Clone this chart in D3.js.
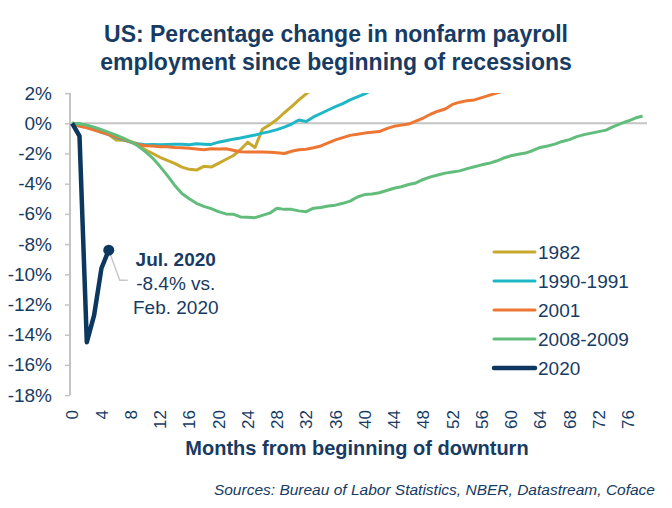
<!DOCTYPE html>
<html>
<head>
<meta charset="utf-8">
<script src="https://cdn.jsdelivr.net/npm/d3@7"></script>
<style>
  body { margin: 0; background: #fff; }
  #chart { width: 672px; height: 508px; }
  text { font-family: "Liberation Sans", Arial, sans-serif; fill: #173b63; }
</style>
</head>
<body>
<div id="chart"></div>
<script>
// % change in nonfarm payrolls, month 0 = start of recession
const jobs1982 = [0, -0.05, -0.15, -0.3, -0.5, -0.75, -1.1, -1.12, -1.2, -1.45, -1.75, -2.0,
  -2.25, -2.45, -2.65, -2.9, -3.05, -3.1, -2.85, -2.9, -2.65, -2.4, -2.15, -1.75, -1.25,
  -1.6, -0.4, -0.1, 0.25, 0.7, 1.1, 1.55, 1.95, 2.3];
const jobs1990 = [0, -0.05, -0.15, -0.4, -0.6, -0.75, -0.95, -1.1, -1.25, -1.35, -1.42, -1.4,
  -1.42, -1.4, -1.38, -1.38, -1.42, -1.35, -1.38, -1.4, -1.25, -1.15, -1.05, -0.97, -0.87,
  -0.78, -0.65, -0.55, -0.42, -0.25, -0.05, 0.22, 0.12, 0.42, 0.65, 0.88, 1.1, 1.3, 1.55,
  1.75, 1.95, 2.2];
const jobs2001 = [0, -0.2, -0.3, -0.45, -0.6, -0.75, -0.9, -1.05, -1.25, -1.4, -1.48, -1.5,
  -1.55, -1.55, -1.6, -1.62, -1.65, -1.7, -1.75, -1.68, -1.7, -1.68, -1.78, -1.88, -1.9,
  -1.9, -1.9, -1.92, -1.95, -2.0, -1.85, -1.75, -1.72, -1.62, -1.5, -1.3, -1.1, -0.95,
  -0.8, -0.72, -0.65, -0.6, -0.55, -0.35, -0.2, -0.12, -0.05, 0.15, 0.35, 0.6, 0.8, 0.95,
  1.25, 1.4, 1.5, 1.55, 1.7, 1.85, 2.0, 2.15];
const jobs2008 = [0, -0.05, -0.12, -0.25, -0.42, -0.6, -0.78, -0.98, -1.22, -1.5, -1.88, -2.3,
  -2.85, -3.45, -4.1, -4.65, -5.0, -5.3, -5.5, -5.65, -5.85, -6.0, -6.02, -6.2, -6.22,
  -6.25, -6.1, -5.95, -5.62, -5.7, -5.7, -5.8, -5.85, -5.62, -5.58, -5.48, -5.42, -5.3,
  -5.15, -4.88, -4.72, -4.68, -4.6, -4.45, -4.3, -4.2, -4.05, -3.95, -3.72, -3.55, -3.42,
  -3.3, -3.22, -3.15, -3.0, -2.88, -2.75, -2.65, -2.5, -2.3, -2.15, -2.05, -1.97, -1.8,
  -1.6, -1.5, -1.38, -1.2, -1.08, -0.88, -0.75, -0.65, -0.55, -0.45, -0.22, -0.02, 0.15,
  0.35, 0.48];
const jobs2020 = [0, -0.85, -14.5, -12.7, -9.6, -8.4];

const seriesNames = ['1982', '1990-1991', '2001', '2008-2009', '2020'];
const seriesColors = ['#c9a82e', '#1fb7c6', '#ee7633', '#62bd7c', '#0c375f'];
const yTicks = [2, 0, -2, -4, -6, -8, -10, -12, -14, -16, -18];
const xTicks = d3.range(0, 77, 4);
const noteLines = ['Jul. 2020', '-8.4% vs.', 'Feb. 2020'];

class Chart {
  constructor(node, options) {
    this.options = options || {};
    this.container = d3.select(node);
    this.setupVar();
    this.setupUtils();
    this.setupDOM();
  }

  setupVar() {
    this.margin = {
      left: this.options.left || 0,
      top: this.options.top || 0,
      right: this.options.right || 0,
      bottom: this.options.bottom || 0,
    };
    this.width = 672 - this.margin.left - this.margin.right;
    this.height = 508 - this.margin.top - this.margin.bottom;
  }

  setupUtils() {
    this.x = d3.scaleLinear()
      .domain([-0.3, 78.6])
      .range([0, this.width]);

    this.y = d3.scaleLinear()
      .domain([-18, 2])
      .range([this.height, 0]);

    this.yAxis = d3.axisLeft()
      .tickValues(yTicks)
      .tickSize(5)
      .tickPadding(13)
      .tickFormat((d) => `${d}%`)
      .scale(this.y);

    this.line = d3.line()
      .x((d, i) => this.x(i))
      .y((d) => this.y(d));
  }

  setupDOM() {
    this.root = this.container.append('svg')
      .attr('width', 672)
      .attr('height', 508);

    this.svg = this.root.append('g')
      .attr('transform', `translate(${this.margin.left}, ${this.margin.top})`);

    this.svg.append('clipPath')
      .attr('id', 'plot-clip')
      .append('rect')
      .attr('x', 0)
      .attr('y', 0)
      .attr('width', this.width + 20)
      .attr('height', this.height + 2);
  }

  drawGraph(series) {
    const root = this.root;
    root.append('text')
      .attr('x', 336)
      .attr('text-anchor', 'middle')
      .style('font-weight', 'bold')
      .style('font-size', '23px')
      .selectAll('tspan')
      .data(['US: Percentage change in nonfarm payroll', 'employment since beginning of recessions'])
      .join('tspan')
      .attr('x', 336)
      .attr('y', (d, i) => 42 + i * 28)
      .text((d) => d);

    // y axis
    const yAxisG = this.svg.append('g')
      .attr('class', 'y-axis')
      .call(this.yAxis);
    yAxisG.select('.domain').attr('stroke', '#c4c4c4').attr('stroke-width', 2)
      .attr('d', `M0,${this.y(2)}V${this.y(-18)}`);
    yAxisG.selectAll('.tick line').attr('stroke', '#c4c4c4').attr('stroke-width', 1.5);
    yAxisG.selectAll('.tick text')
      .style('font-size', '19px')
      .style('fill', '#173b63');

    // zero line
    this.svg.append('line')
      .attr('x1', 0)
      .attr('x2', this.width)
      .attr('y1', this.y(0))
      .attr('y2', this.y(0))
      .attr('stroke', '#c4c4c4')
      .attr('stroke-width', 2);

    // x tick labels, rotated
    this.svg.append('g')
      .attr('class', 'x-axis')
      .selectAll('text')
      .data(xTicks)
      .join('text')
      .attr('transform', (d) => `translate(${this.x(d)}, ${this.height + 15}) rotate(-90)`)
      .attr('text-anchor', 'end')
      .attr('dy', '0.36em')
      .style('font-size', '17px')
      .text((d) => d);

    root.append('text')
      .attr('x', 357)
      .attr('y', 455)
      .attr('text-anchor', 'middle')
      .style('font-weight', 'bold')
      .style('font-size', '20px')
      .text('Months from beginning of downturn');

    root.append('text')
      .attr('x', 655)
      .attr('y', 495)
      .attr('text-anchor', 'end')
      .style('font-style', 'italic')
      .style('font-size', '15.5px')
      .text('Sources: Bureau of Labor Statistics, NBER, Datastream, Coface');

    // lines
    const lines = this.svg.append('g').attr('clip-path', 'url(#plot-clip)');
    lines.selectAll('.line-path')
      .data(series)
      .join('path')
      .attr('class', 'line-path')
      .attr('fill', 'none')
      .attr('stroke', (d) => d.color)
      .attr('stroke-width', (d) => (d.name === '2020' ? 4.5 : 3))
      .attr('stroke-linejoin', 'round')
      .attr('d', (d) => this.line(d.values));

    // July 2020 callout
    const last = jobs2020.length - 1;
    const px = this.x(last);
    const py = this.y(jobs2020[last]);
    this.svg.append('polyline')
      .attr('points', `${px},${py} ${px + 11},${py + 30} ${px + 19},${py + 30}`)
      .attr('fill', 'none')
      .attr('stroke', '#c8c8c8')
      .attr('stroke-width', 1.5);
    this.svg.append('circle')
      .attr('cx', px)
      .attr('cy', py)
      .attr('r', 5.5)
      .attr('fill', '#0c375f');
    this.svg.append('g')
      .selectAll('text')
      .data(noteLines)
      .join('text')
      .attr('x', px + 67)
      .attr('y', (d, i) => py + 16 + i * 24)
      .attr('text-anchor', 'middle')
      .style('font-size', '19px')
      .style('font-weight', (d, i) => (i === 0 ? 'bold' : 'normal'))
      .text((d) => d);

    // legend
    const legend = root.append('g')
      .attr('transform', 'translate(494, 252)')
      .selectAll('g')
      .data(series)
      .join('g')
      .attr('transform', (d, i) => `translate(0, ${i * 29})`);
    legend.append('line')
      .attr('x1', 0)
      .attr('x2', 41)
      .attr('stroke', (d) => d.color)
      .attr('stroke-width', (d) => (d.name === '2020' ? 4.5 : 3))
      .attr('stroke-linecap', 'round');
    legend.append('text')
      .attr('x', 44)
      .attr('dy', '0.36em')
      .style('font-size', '19px')
      .text((d) => d.name);
  }
}

const series = [jobs1982, jobs1990, jobs2001, jobs2008, jobs2020]
  .map((values, i) => ({ name: seriesNames[i], color: seriesColors[i], values }));

const graph = new Chart(document.getElementById('chart'), {
  top: 93.1,
  left: 70,
  right: 25,
  bottom: 112.9,
});
graph.drawGraph(series);
</script>
</body>
</html>
